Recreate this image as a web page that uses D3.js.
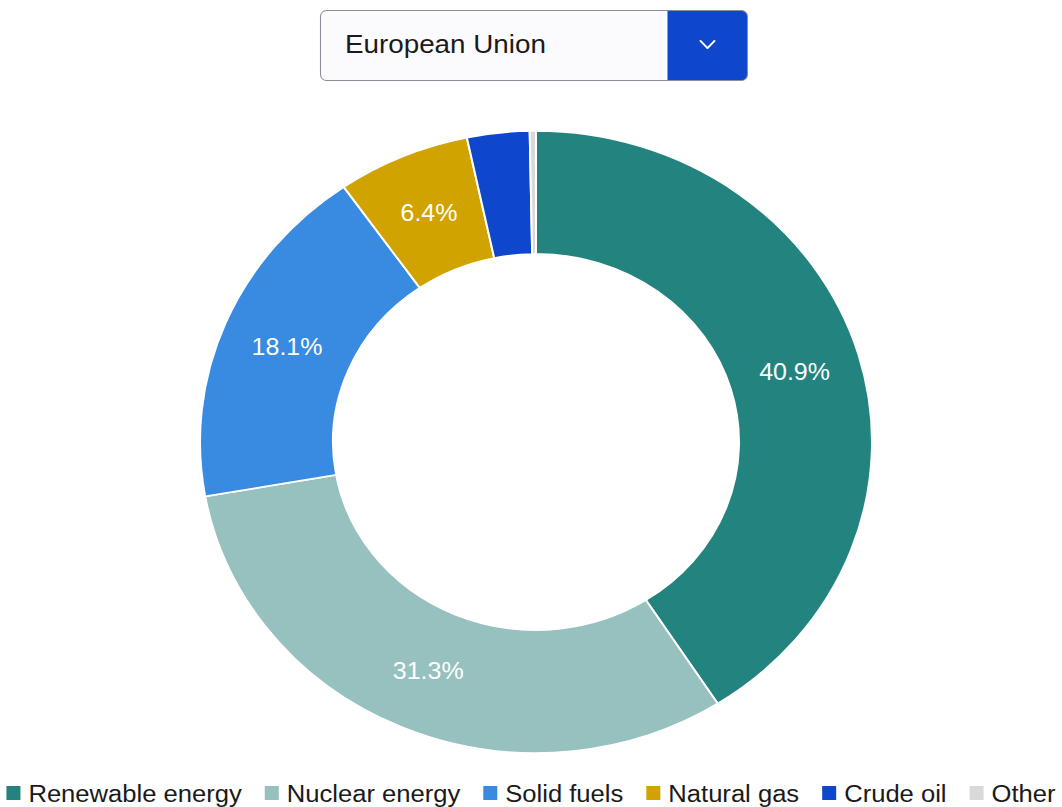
<!DOCTYPE html>
<html>
<head>
<meta charset="utf-8">
<script src="https://cdn.jsdelivr.net/npm/d3@7"></script>
<style>
  html, body { margin: 0; padding: 0; background: #ffffff; }
  svg { display: block; font-family: "Liberation Sans", Arial, sans-serif; }
</style>
</head>
<body>
<svg id="chart" width="1062" height="807"></svg>
<script>
// Share of EU primary energy production by fuel
const categories = ["Renewable energy", "Nuclear energy", "Solid fuels", "Natural gas", "Crude oil", "Other"];
const shares = [40.9, 31.3, 18.1, 6.4, 3.0, 0.3];
const colors = ["#22837F", "#96C1BE", "#398AE1", "#D0A300", "#0E46CC", "#D9D9D9"];
const selectedRegion = "European Union";

const W = 1062, H = 807;
const SY = 0.926;               // vertical compression of the whole drawing

const svg = d3.select("#chart");
const root = svg.append("g").attr("transform", `scale(1, ${SY})`);

// ---- region selector box ----
const box = { x: 320.5, y: 10.5 / SY, w: 427, h: 70 / SY, r: 6, btn: 80 };
const sel = root.append("g");
sel.append("rect")
  .attr("x", box.x).attr("y", box.y)
  .attr("width", box.w).attr("height", box.h)
  .attr("rx", box.r).attr("ry", box.r / SY)
  .attr("fill", "#fbfbfd");
const bx = box.x + box.w - box.btn, by = box.y, bw = box.btn, bh = box.h, rr = box.r, rry = box.r / SY;
sel.append("path")
  .attr("d", `M${bx},${by} H${bx + bw - rr} A${rr},${rry} 0 0 1 ${bx + bw},${by + rry} V${by + bh - rry} A${rr},${rry} 0 0 1 ${bx + bw - rr},${by + bh} H${bx} Z`)
  .attr("fill", "#0E46CC");
sel.append("rect")
  .attr("x", box.x).attr("y", box.y)
  .attr("width", box.w).attr("height", box.h)
  .attr("rx", box.r).attr("ry", box.r / SY)
  .attr("fill", "none").attr("stroke", "#8a8f99").attr("stroke-width", 1.1);
const cx = bx + bw / 2, cy = 44.5 / SY;
sel.append("path")
  .attr("d", `M${cx - 7},${cy - 3.6 / SY} L${cx},${cy + 3.6 / SY} L${cx + 7},${cy - 3.6 / SY}`)
  .attr("fill", "none").attr("stroke", "#ffffff").attr("stroke-width", 2)
  .attr("stroke-linecap", "round").attr("stroke-linejoin", "round");
sel.append("text")
  .attr("x", 345).attr("y", 53.5 / SY)
  .attr("font-size", 27.8).attr("fill", "#1a1a1a")
  .text(selectedRegion);

// ---- donut ----
const center = { x: 536, y: 442 / SY };
const outerR = 336, innerR = 203;
const data = categories.map((c, i) => ({ name: c, value: shares[i], color: colors[i] }));

const pie = d3.pie().sort(null).value(d => d.value);
const arc = d3.arc().innerRadius(innerR).outerRadius(outerR);
const labelArc = d3.arc().innerRadius((innerR + outerR) / 2).outerRadius((innerR + outerR) / 2);

const donut = root.append("g").attr("transform", `translate(${center.x},${center.y})`);
const arcs = pie(data);
donut.selectAll("path.slice")
  .data(arcs)
  .join("path")
  .attr("class", "slice")
  .attr("d", arc)
  .attr("fill", d => d.data.color)
  .attr("stroke", "#ffffff")
  .attr("stroke-width", 2)
  .attr("stroke-linejoin", "round");

donut.selectAll("text.pct")
  .data(arcs.filter(d => d.data.value >= 5))
  .join("text")
  .attr("class", "pct")
  .attr("x", d => labelArc.centroid(d)[0])
  .attr("y", d => labelArc.centroid(d)[1])
  .attr("dy", "0.36em")
  .attr("text-anchor", "middle")
  .attr("font-size", 25)
  .attr("fill", "#ffffff")
  .text(d => d.data.value.toFixed(1) + "%");

// ---- legend ----
const legend = root.append("g");
const sq = 14, gapText = 8, gapItem = 23, fs = 25.6;
const baseline = 802 / SY;
const items = legend.selectAll("g.item")
  .data(data)
  .join("g")
  .attr("class", "item");
items.append("rect")
  .attr("width", sq).attr("height", sq / SY)
  .attr("y", 786 / SY)
  .attr("fill", d => d.color);
items.append("text")
  .attr("x", sq + gapText)
  .attr("y", baseline)
  .attr("font-size", fs)
  .attr("fill", "#1a1a1a")
  .text(d => d.name);

const widths = [];
items.each(function () {
  widths.push(sq + gapText + d3.select(this).select("text").node().getComputedTextLength());
});
const total = d3.sum(widths) + gapItem * (widths.length - 1);
let xpos = W / 2 - total / 2;
items.attr("transform", (d, i) => {
  const t = `translate(${xpos},0)`;
  xpos += widths[i] + gapItem;
  return t;
});
</script>
</body>
</html>
